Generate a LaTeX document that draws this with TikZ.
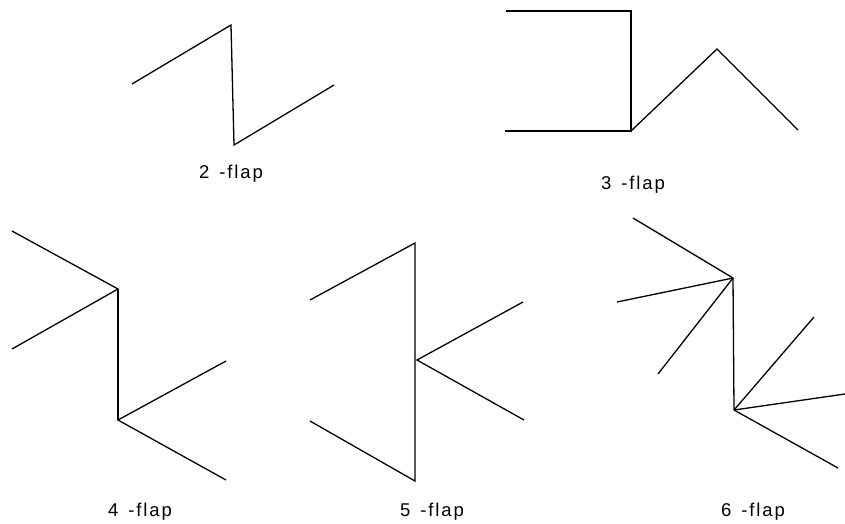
\documentclass[tikz,border=0pt]{standalone}
\usepackage{fontspec}
\setmainfont{Liberation Sans}
\newfontfamily\lblfont[LetterSpace=10]{Liberation Sans}
\tikzset{
  flap/.style={line width=1.3pt, line join=miter, line cap=butt},
  lbl/.style={font=\lblfont\fontsize{18.5}{21}\selectfont, inner sep=0pt, anchor=center}
}
\begin{document}
\begin{tikzpicture}[x=1pt,y=-1pt]
\useasboundingbox (0,0) rectangle (845,523);
% 2-flap
\coordinate (a1) at (132,84);
\coordinate (a2) at (231,25);
\coordinate (a3) at (234,145);
\coordinate (a4) at (334,85);
\draw[flap] (a1) -- (a2) -- (a3) -- (a4);
\node[lbl] (l2) at (231,174) {2\hspace{3pt} -flap};
% 3-flap
\coordinate (b1) at (506,11);
\coordinate (b2) at (631,11);
\coordinate (b3) at (631,131);
\coordinate (b4) at (505,131);
\coordinate (b5) at (717,49);
\coordinate (b6) at (798,130);
\draw[flap] (b1) -- (b2) -- (b3) -- (b4);
\draw[flap] (b3) -- (b5) -- (b6);
\node[lbl] (l3) at (633,185) {3\hspace{3pt} -flap};
% 4-flap
\coordinate (c1) at (12,231);
\coordinate (c2) at (118,289);
\coordinate (c3) at (12,349);
\coordinate (c4) at (118,420);
\coordinate (c5) at (226,361);
\coordinate (c6) at (226,480);
\draw[flap] (c1) -- (c2) -- (c3);
\draw[flap] (c2) -- (c4);
\draw[flap] (c5) -- (c4) -- (c6);
\node[lbl] (l4) at (140,512) {4\hspace{3pt} -flap};
% 5-flap
\coordinate (d1) at (310,300);
\coordinate (d2) at (415,243);
\coordinate (d3) at (417,360);
\coordinate (d4) at (523,302);
\coordinate (d5) at (524,420);
\coordinate (d6) at (415,481);
\coordinate (d7) at (310,421);
\draw[flap] (d1) -- (d2) -- (d6) -- (d7);
\draw[flap] (d4) -- (d3) -- (d5);
\node[lbl] (l5) at (432,512) {5\hspace{3pt} -flap};
% 6-flap
\coordinate (e1) at (633,218);
\coordinate (e2) at (733,278);
\coordinate (e3) at (617,302);
\coordinate (e4) at (658,374);
\coordinate (e5) at (734,410);
\coordinate (e6) at (814,317);
\coordinate (e7) at (845,394);
\coordinate (e8) at (838,468);
\draw[flap] (e1) -- (e2);
\draw[flap] (e3) -- (e2);
\draw[flap] (e4) -- (e2);
\draw[flap] (e2) -- (e5);
\draw[flap] (e5) -- (e6);
\draw[flap] (e5) -- (e7);
\draw[flap] (e5) -- (e8);
\node[lbl] (l6) at (753,512) {6\hspace{3pt} -flap};
\end{tikzpicture}
\end{document}
